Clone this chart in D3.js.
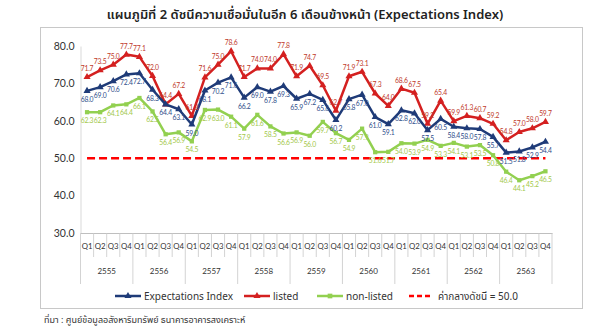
<!DOCTYPE html>
<html><head><meta charset="utf-8">
<script src="https://cdn.jsdelivr.net/npm/d3@7"></script>
<style>
body{margin:0;background:#fff;}
svg{display:block;}
.thai{font-family:"Noto Sans Thai","Tahoma","Leelawadee UI","Noto Sans",sans-serif;}
</style></head>
<body><svg id="c" width="610" height="336"></svg>
<script>
const years = ["2555","2556","2557","2558","2559","2560","2561","2562","2563"];
const quarters = ["Q1","Q2","Q3","Q4"];
const categories = years.flatMap(y => quarters.map(q => y + "-" + q));
const expectationsIndex = [68.0,69.0,70.6,72.4,72.7,68.3,64.4,63.1,59.0,68.1,70.2,71.6,66.2,69.0,67.8,69.3,65.9,67.2,65.6,60.2,65.8,67.0,61.0,59.1,62.8,62.0,57.5,60.5,58.4,58.0,57.8,55.7,51.5,51.8,52.9,54.4];
const listed = [71.7,73.5,75.0,77.7,77.1,72.0,64.4,67.2,61.3,71.6,75.0,78.6,71.7,74.0,74.0,77.8,71.9,74.7,69.5,62.7,71.9,73.1,67.3,64.0,68.6,67.5,59.2,65.4,59.9,61.3,60.7,59.2,54.8,57.0,58.0,59.7];
const nonListed = [62.3,62.3,64.1,64.4,66.1,62.5,56.4,56.9,54.5,62.9,63.0,61.1,57.9,61.6,58.5,56.6,56.9,56.0,59.7,56.7,54.9,57.9,51.6,51.7,54.0,53.9,54.9,53.3,54.1,53.1,53.5,50.8,46.4,44.1,45.2,46.5];
const midValue = 50.0;
const yTicks = [30,40,50,60,70,80];
const title = "แผนภูมิที่ 2 ดัชนีความเชื่อมั่นในอีก 6 เดือนข้างหน้า (Expectations Index)";
const source = "ที่มา : ศูนย์ข้อมูลอสังหาริมทรัพย์ ธนาคารอาคารสงเคราะห์";
const seriesNames = ["Expectations Index","listed","non-listed","ค่ากลางดัชนี = 50.0"];

const svg = d3.select("#c");
const x = d3.scaleBand().domain(categories).range([80.5, 552]).padding(0);
const y = d3.scaleLinear().domain([30, 80]).range([233, 46]);
const cx = d => x(d) + x.bandwidth()/2;
const numFont = "Lato, 'Open Sans', sans-serif";

// title
svg.append("text").attr("class","thai").attr("x",305).attr("y",19).attr("text-anchor","middle")
  .attr("font-size",13).attr("font-weight",600).attr("fill","#222").text(title);
// frame
svg.append("rect").attr("x",40.5).attr("y",27.5).attr("width",542).attr("height",281)
  .attr("fill","none").attr("stroke","#c8c8c8");

// y axis
const ya = svg.append("g").attr("transform","translate(80.5,0)")
  .call(d3.axisLeft(y).tickValues(yTicks).tickFormat(d3.format(".1f")).tickSize(0).tickPadding(6));
ya.select(".domain").attr("stroke","#d9d9d9");
ya.selectAll("text").attr("font-family",numFont).attr("font-size",10.5).attr("fill","#333");

// x axis
const xa = svg.append("g").attr("transform","translate(0,233)")
  .call(d3.axisBottom(x).tickFormat(d => d.split("-")[1]).tickSize(0).tickPadding(10));
xa.select(".domain").attr("stroke","#bfbfbf");
xa.selectAll("text").attr("font-family",numFont).attr("font-size",7.8).attr("fill","#333");
// separators
const bounds = d3.range(categories.length + 1);
svg.append("g").selectAll("line").data(bounds).join("line")
  .attr("x1", i => 80.5 + i * x.step()).attr("x2", i => 80.5 + i * x.step())
  .attr("y1",233).attr("y2", i => i % 4 === 0 ? 284 : 257)
  .attr("stroke","#c8c8c8").attr("stroke-width",0.8);
svg.append("g").selectAll("text").data(years).join("text")
  .attr("x",(d,i) => 80.5 + (i*4 + 2) * x.step()).attr("y",274).attr("text-anchor","middle")
  .attr("font-family",numFont).attr("font-size",8).attr("fill","#333").text(d => d);

// mid line
svg.append("line").attr("x1",cx(categories[0])).attr("x2",cx(categories[35]))
  .attr("y1",y(midValue)).attr("y2",y(midValue))
  .attr("stroke","#ff0000").attr("stroke-width",2.5).attr("stroke-dasharray","8,4");

const series = [
  {vals: nonListed, color:"#92d050", label:"#a2c84a", marker:"square", dy: 11},
  {vals: listed, color:"#d42020", label:"#c0392b", marker:"tri", dy: -6},
  {vals: expectationsIndex, color:"#1f3b78", label:"#2e4d8a", marker:"tri", dy: 11}
];
const line = d3.line().x((d,i) => cx(categories[i])).y(d => y(d));
series.forEach(s => {
  svg.append("path").datum(s.vals).attr("d", line).attr("fill","none")
    .attr("stroke", s.color).attr("stroke-width",2.5).attr("stroke-linejoin","round");
  const sym = d3.symbol().type(s.marker === "tri" ? d3.symbolTriangle : d3.symbolSquare).size(s.marker==="tri"?22:18);
  svg.append("g").selectAll("path").data(s.vals).join("path")
    .attr("transform",(d,i) => `translate(${cx(categories[i])},${y(d)})`)
    .attr("d", sym).attr("fill", s.color);
});
series.forEach(s => {
  svg.append("g").selectAll("text").data(s.vals).join("text")
    .attr("x",(d,i) => cx(categories[i])).attr("y", d => y(d) + s.dy)
    .attr("text-anchor","middle").attr("font-family",numFont)
    .attr("font-size",6.8).attr("letter-spacing",-0.2).attr("fill", s.label).text(d => d.toFixed(1));
});

// legend
const leg = svg.append("g").attr("transform","translate(0,296)");
const legItems = [
  {x:115, color:"#1f3b78", marker:"tri", text:seriesNames[0]},
  {x:244, color:"#d42020", marker:"tri", text:seriesNames[1]},
  {x:317, color:"#92d050", marker:"square", text:seriesNames[2]},
  {x:409, color:"#ff0000", marker:"dash", text:seriesNames[3]}
];
legItems.forEach(it => {
  const g = leg.append("g").attr("transform",`translate(${it.x},0)`);
  if (it.marker === "dash") {
    g.append("line").attr("x1",0).attr("x2",24).attr("y1",0).attr("y2",0)
      .attr("stroke",it.color).attr("stroke-width",2.5).attr("stroke-dasharray","5,3");
  } else {
    g.append("line").attr("x1",0).attr("x2",26).attr("y1",0).attr("y2",0)
      .attr("stroke",it.color).attr("stroke-width",2.5);
    g.append("path").attr("transform","translate(13,0)")
      .attr("d", d3.symbol().type(it.marker==="tri"?d3.symbolTriangle:d3.symbolSquare).size(22)).attr("fill",it.color);
  }
  g.append("text").attr("class","thai").attr("x",29).attr("y",3.5).attr("font-size",10).attr("fill","#333").text(it.text);
});

svg.append("text").attr("class","thai").attr("x",44).attr("y",323).attr("font-size",9).attr("fill","#333").text(source);
</script></body></html>
